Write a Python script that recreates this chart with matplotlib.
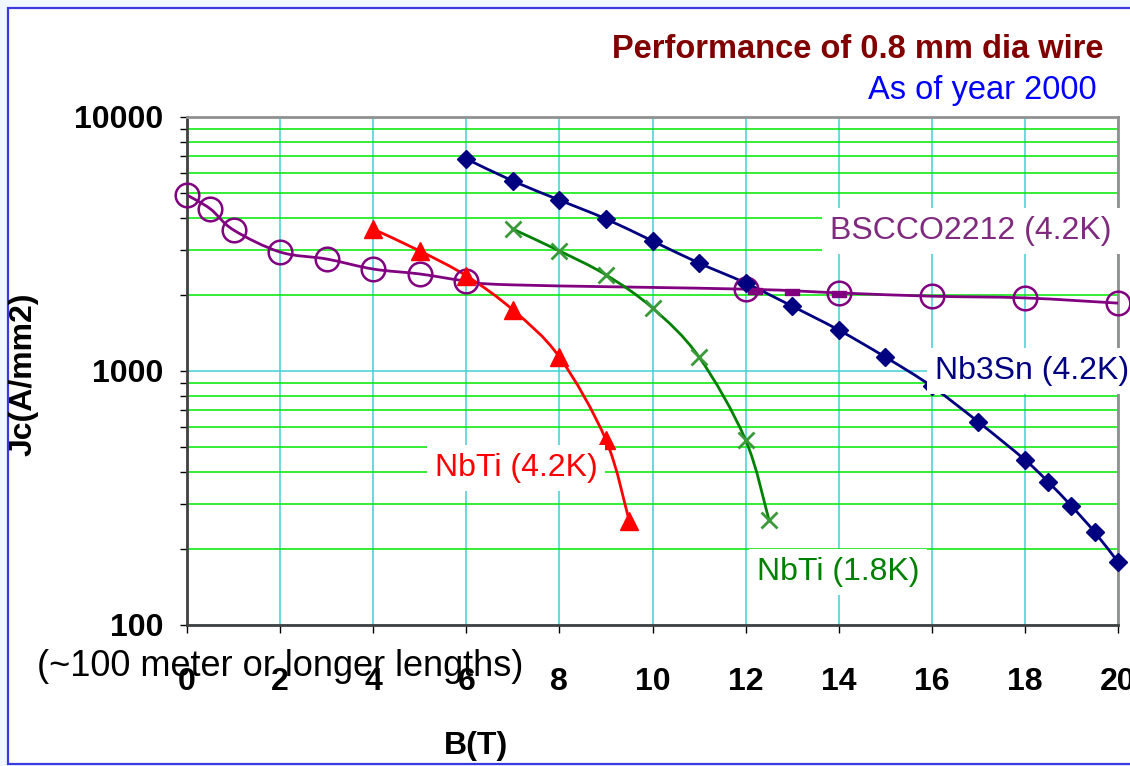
import numpy as np
import matplotlib
matplotlib.use('Agg')
from matplotlib import pyplot as plt
from matplotlib.path import Path
from matplotlib.patches import PathPatch, Rectangle
from matplotlib.ticker import LogLocator, NullFormatter, FixedLocator

plt.rcParams['font.family'] = ['Liberation Sans', 'DejaVu Sans']

# data (B in tesla, Jc in A/mm2)
b_nbti42 = [4, 5, 6, 7, 8, 9, 9.5]
jc_nbti42 = [3620, 2970, 2370, 1740, 1135, 535, 257]

b_nbti18 = [7, 8, 9, 10, 11, 12, 12.5]
jc_nbti18 = [3620, 2970, 2390, 1770, 1135, 535, 260]

b_nb3sn = [6, 7, 8, 9, 10, 11, 12, 13, 14, 15, 16, 17, 18, 18.5, 19, 19.5, 20]
jc_nb3sn = [6840, 5600, 4710, 3970, 3250, 2660, 2220, 1800, 1450, 1135, 870,
            630, 447, 366, 294, 232, 177]

b_bscco = [0, 0.5, 1, 2, 3, 4, 5, 6, 7, 12, 14, 16, 18, 20]
jc_bscco = [4930, 4350, 3590, 2940, 2760, 2520, 2410, 2260, 2183, 2100, 2030,
            1970, 1940, 1850]
bscco_marked = [0, 1, 2, 3, 4, 5, 6, 7, 9, 10, 11, 12, 13]  # no circle at 7 T

b_bscco_sq = [12.2, 13, 14]
jc_bscco_sq = [2065, 2047, 2012]

x_ticks = [0, 2, 4, 6, 8, 10, 12, 14, 16, 18, 20]


def smooth(x, y):
    # excel-like smoothed line: bezier segments in (x, log y)
    lx = np.asarray(x, float)
    ly = np.log10(np.asarray(y, float))
    n = len(lx)
    verts = [(lx[0], ly[0])]
    codes = [Path.MOVETO]
    for i in range(n - 1):
        a = i - 1 if i > 0 else i
        d = i + 2 if i + 2 < n else i + 1
        verts.append((lx[i] + (lx[i + 1] - lx[a]) / 6, ly[i] + (ly[i + 1] - ly[a]) / 6))
        verts.append((lx[i + 1] - (lx[d] - lx[i]) / 6, ly[i + 1] - (ly[d] - ly[i]) / 6))
        verts.append((lx[i + 1], ly[i + 1]))
        codes += [Path.CURVE4] * 3
    v = np.array(verts)
    v[:, 1] = 10 ** v[:, 1]
    return Path(v, codes)


fig = plt.figure(figsize=(11.3, 7.66), dpi=100, facecolor='#f0f7ff')
fig.patches.append(Rectangle((8 / 1130, 2 / 766), 1.0, 756 / 766, transform=fig.transFigure,
                             facecolor='white', edgecolor='#3a3ae0', lw=1.6, zorder=-5))

ax = fig.add_axes([187 / 1130, 141 / 766, 931 / 1130, 508 / 766])
ax.set_zorder(2)
ax.set_facecolor('white')
ax.set_yscale('log')
ax.set_xlim(0, 20)
ax.set_ylim(100, 10000)

# grid
ax.xaxis.set_major_locator(FixedLocator(x_ticks))
ax.yaxis.set_major_locator(LogLocator(base=10))
ax.yaxis.set_minor_locator(LogLocator(base=10, subs=np.arange(2, 10)))
ax.yaxis.set_minor_formatter(NullFormatter())
ax.grid(True, axis='x', which='major', color='#40d0d4', lw=1.1)
ax.grid(True, axis='y', which='major', color='#40d0d4', lw=1.1)
ax.grid(True, axis='y', which='minor', color='#00e800', lw=1.1)
ax.set_axisbelow(True)

# curves
ax.add_patch(PathPatch(smooth(b_bscco, jc_bscco), fill=False, edgecolor='#800080', lw=2, zorder=3))
ax.plot(b_bscco, jc_bscco, ls='none', marker='o', ms=17, mfc='none', mec='#800080', mew=1.8,
        markevery=bscco_marked, zorder=4, clip_on=False)
rect_marker = [(-1, -0.5), (1, -0.5), (1, 0.5), (-1, 0.5), (-1, -0.5)]
ax.plot(b_bscco_sq, jc_bscco_sq, ls='none', marker=rect_marker, ms=10, color='#800080', zorder=4)

ax.add_patch(PathPatch(smooth(b_nb3sn, jc_nb3sn), fill=False, edgecolor='#000080', lw=2, zorder=3))
ax.plot(b_nb3sn, jc_nb3sn, ls='none', marker='D', ms=9.5, color='#000080', zorder=4, clip_on=False)

ax.add_patch(PathPatch(smooth(b_nbti42, jc_nbti42), fill=False, edgecolor='#ff0000', lw=2, zorder=3))
ax.plot(b_nbti42, jc_nbti42, ls='none', marker='^', ms=13, color='#ff0000', zorder=4)

ax.add_patch(PathPatch(smooth(b_nbti18, jc_nbti18), fill=False, edgecolor='#008000', lw=2, zorder=3))
ax.plot(b_nbti18, jc_nbti18, ls='none', marker='x', ms=12, mew=2, color='#3a9a3a', zorder=4)

# series labels
box = dict(boxstyle='square,pad=0.25', fc='white', ec='none')
ax.text(16.84, 3560, 'BSCCO2212 (4.2K)', color='#7f2a7f', fontsize=23, ha='center', va='center',
        bbox=box, zorder=6, clip_on=False)
ax.text(18.15, 1000, 'Nb3Sn (4.2K)', color='#000080', fontsize=23, ha='center', va='center',
        bbox=box, zorder=6, clip_on=False)
ax.text(7.07, 415, 'NbTi (4.2K)', color='#ff0000', fontsize=23, ha='center', va='center',
        bbox=box, zorder=6)
ax.text(13.98, 162, 'NbTi (1.8K)', color='#008000', fontsize=23, ha='center', va='center',
        bbox=box, zorder=6)

# axes styling
for s in ['top', 'right']:
    ax.spines[s].set_color('#909090')
    ax.spines[s].set_linewidth(2)
for s in ['left', 'bottom']:
    ax.spines[s].set_color('#404040')
    ax.spines[s].set_linewidth(2)
ax.tick_params(axis='x', which='major', direction='out', length=6, width=1, pad=24,
               labelsize=23)
ax.tick_params(axis='y', which='major', direction='out', length=5, width=1, pad=12,
               labelsize=23)
ax.tick_params(axis='y', which='minor', direction='out', length=5, width=1)
ax.set_yticks([100, 1000, 10000])
ax.set_yticklabels(['100', '1000', '10000'])
for lab in ax.get_xticklabels() + ax.get_yticklabels():
    lab.set_fontweight('bold')

# figure texts
fig.text(1104 / 1130, 1 - 50 / 766, 'Performance of 0.8 mm dia wire', color='#800000',
         fontsize=23.5, fontweight='bold', ha='right', va='center')
fig.text(1097 / 1130, 1 - 90 / 766, 'As of year 2000', color='#0000ff', fontsize=23.5,
         ha='right', va='center')
fig.text(24 / 1130, 1 - 374 / 766, 'Jc(A/mm2)', rotation=90, fontsize=23, fontweight='bold',
         ha='center', va='center')
fig.text(476 / 1130, 1 - 746 / 766, 'B(T)', fontsize=23, fontweight='bold', ha='center', va='center')
fig.text(280 / 1130, 1 - 667 / 766, '(~100 meter or longer lengths)', fontsize=26,
         ha='center', va='center', zorder=5)

plt.savefig('out.png', dpi=100, facecolor=fig.get_facecolor())
